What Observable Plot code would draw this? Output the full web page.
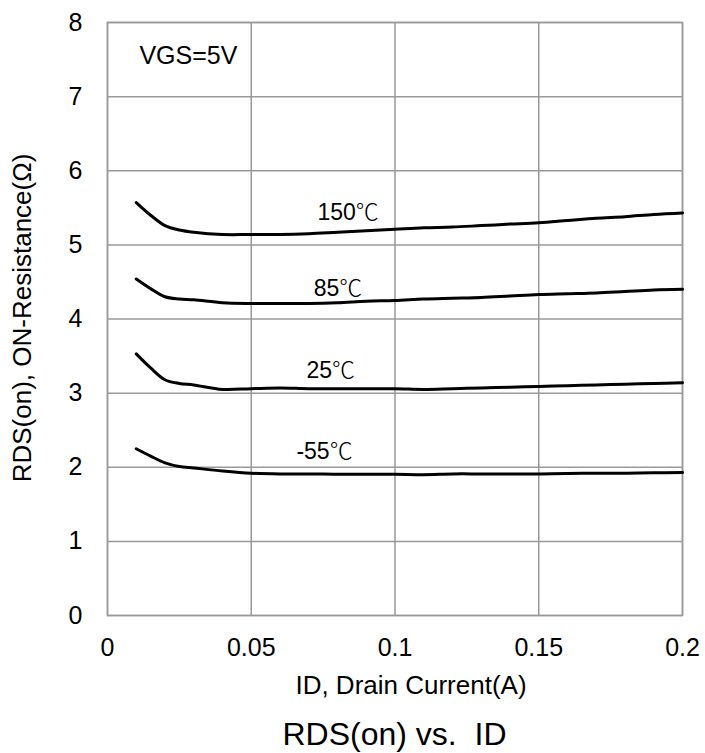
<!DOCTYPE html>
<html>
<head>
<meta charset="utf-8">
<script src="https://cdn.jsdelivr.net/npm/d3@7"></script>
<script src="https://cdn.jsdelivr.net/npm/@observablehq/plot@0.6"></script>
<style>
  html, body { margin: 0; padding: 0; background: #fff; }
  #chart svg { display: block; }
  #title {
    font-family: "Liberation Sans", Arial, sans-serif;
    font-size: 32px; line-height: 40px; color: #000;
    text-align: center; margin-top: 9px;
    padding-left: 107px; padding-right: 23px; box-sizing: border-box; width: 705px;
    white-space: pre;
  }
</style>
</head>
<body>
<div id="chart"></div>
<div id="title">RDS(on) vs.  ID</div>
<script>
// Drain current (A)
const current = [0.01, 0.015, 0.02, 0.025, 0.03, 0.04, 0.05, 0.06, 0.07, 0.08, 0.09, 0.1,
                 0.11, 0.12, 0.13, 0.14, 0.15, 0.16, 0.17, 0.18, 0.19, 0.2];
// RDS(on) (ohm) per temperature
const r150 = [5.57, 5.40, 5.26, 5.20, 5.17, 5.14, 5.14, 5.14, 5.15, 5.17, 5.19, 5.21,
              5.23, 5.24, 5.26, 5.28, 5.30, 5.33, 5.36, 5.38, 5.41, 5.43];
const r85  = [4.54, 4.41, 4.30, 4.27, 4.26, 4.22, 4.21, 4.21, 4.21, 4.22, 4.24, 4.25,
              4.27, 4.28, 4.29, 4.31, 4.33, 4.34, 4.35, 4.37, 4.39, 4.40];
const r25  = [3.53, 3.34, 3.18, 3.13, 3.11, 3.05, 3.06, 3.07, 3.06, 3.06, 3.06, 3.06,
              3.05, 3.06, 3.07, 3.08, 3.09, 3.10, 3.11, 3.12, 3.13, 3.14];
const rm55 = [2.25, 2.15, 2.06, 2.01, 1.99, 1.95, 1.92, 1.91, 1.91, 1.905, 1.905, 1.905,
              1.90, 1.91, 1.91, 1.91, 1.91, 1.915, 1.92, 1.92, 1.925, 1.93];
const seriesNames = ["150℃", "85℃", "25℃", "-55℃"];
const seriesValues = [r150, r85, r25, rm55];
// curve label anchor points (data coords)
const labelX = [0.0730, 0.0717, 0.0692, 0.0657];
const labelY = [5.34, 4.317, 3.198, 2.107];
const note = "VGS=5V";
const noteX = 0.0111, noteY = 7.444;
const xTicks = [0, 0.05, 0.1, 0.15, 0.2];
const xTickLabels = ["0", "0.05", "0.1", "0.15", "0.2"];
const yTicks = [0, 1, 2, 3, 4, 5, 6, 7, 8];
const xLabel = "ID, Drain Current(A)";
const yLabel = "RDS(on), ON-Resistance(Ω)";

const rows = [];
seriesNames.forEach((name, i) => {
  current.forEach((c, j) => rows.push({series: name, id: c, r: seriesValues[i][j]}));
});
const labels = seriesNames.map((name, i) => ({name, x: labelX[i], y: labelY[i]}));

const font = `"Liberation Sans", Arial, "Noto Sans CJK SC", sans-serif`;
const grid = "#999";

const chart = Plot.plot({
  width: 705,
  height: 705,
  marginTop: 22,
  marginBottom: 90,
  marginLeft: 107,
  marginRight: 23,
  style: {fontFamily: font, color: "#000", background: "#fff"},
  x: {domain: [0, 0.2]},
  y: {domain: [0, 8]},
  marks: [
    Plot.gridX(xTicks, {stroke: grid, strokeOpacity: 1, strokeWidth: 1.5}),
    Plot.gridY(yTicks, {stroke: grid, strokeOpacity: 1, strokeWidth: 1.5}),
    Plot.frame({stroke: grid, strokeWidth: 1.5}),
    Plot.axisX({ticks: xTicks, tickSize: 0, tickPadding: 23, fontSize: 25,
      tickFormat: (d) => xTickLabels[xTicks.indexOf(d)], label: null}),
    Plot.axisY({ticks: yTicks, tickSize: 0, tickPadding: 25, fontSize: 25, label: null}),
    Plot.line(rows, {x: "id", y: "r", z: "series", stroke: "#000", strokeWidth: 3,
      curve: "catmull-rom"}),
    Plot.text(labels, {x: "x", y: "y", text: "name", textAnchor: "start", lineAnchor: "bottom",
      fontSize: 23, fill: "#000"}),
    Plot.text([note], {x: () => noteX, y: () => noteY, text: (d) => d, textAnchor: "start",
      lineAnchor: "bottom", fontSize: 25, fill: "#000"}),
    Plot.text([xLabel], {frameAnchor: "bottom", text: (d) => d, lineAnchor: "bottom",
      textAnchor: "middle", dx: 16, dy: 78, fontSize: 26, fill: "#000"}),
    Plot.text([yLabel], {frameAnchor: "left", text: (d) => d, rotate: -90,
      textAnchor: "middle", lineAnchor: "middle", dx: -85, dy: -1, fontSize: 26, fill: "#000"})
  ]
});
// render the degree-Celsius sign with a CJK face, as in the reference
chart.querySelectorAll("text").forEach((t) => {
  if (t.textContent.includes("℃") && t.children.length === 0) {
    const s = t.textContent;
    const i = s.indexOf("℃");
    t.textContent = s.slice(0, i);
    const ts = document.createElementNS("http://www.w3.org/2000/svg", "tspan");
    ts.setAttribute("font-family", '"Noto Sans CJK SC", sans-serif');
    ts.setAttribute("font-weight", "300");
    ts.textContent = "℃";
    t.appendChild(ts);
  } else if (t.children.length) {
    t.querySelectorAll("tspan").forEach((sp) => {
      if (sp.textContent.includes("℃")) {
        const s = sp.textContent;
        const i = s.indexOf("℃");
        sp.textContent = s.slice(0, i);
        const ts = document.createElementNS("http://www.w3.org/2000/svg", "tspan");
        ts.setAttribute("font-family", '"Noto Sans CJK SC", sans-serif');
        ts.setAttribute("font-weight", "300");
        ts.textContent = "℃";
        sp.after(ts);
      }
    });
  }
});
document.getElementById("chart").appendChild(chart);
</script>
</body>
</html>
